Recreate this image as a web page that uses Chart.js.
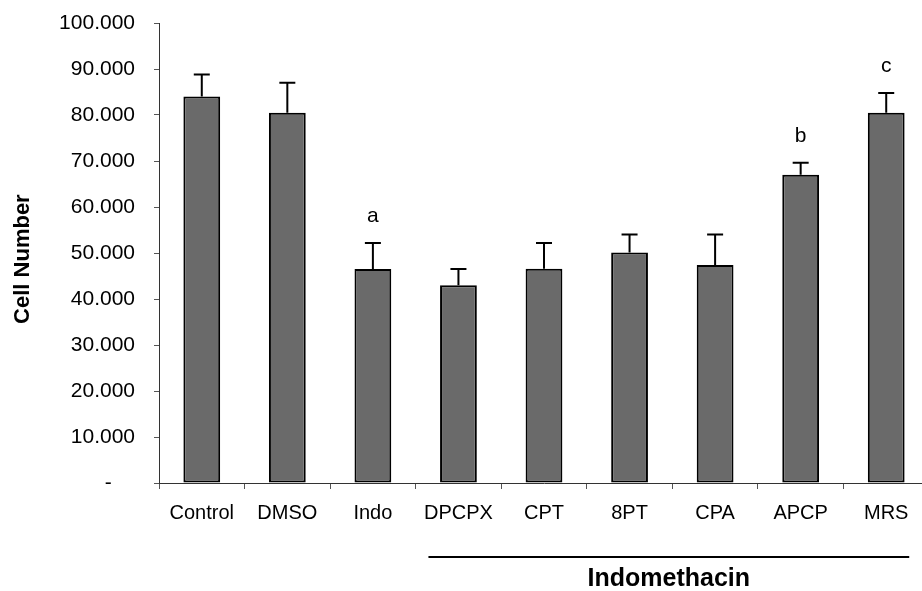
<!DOCTYPE html>
<html>
<head>
<meta charset="utf-8">
<script src="https://cdn.jsdelivr.net/npm/chart.js@4/dist/chart.umd.min.js"></script>
<style>
  html, body { margin: 0; padding: 0; background: #fff; overflow: hidden; }
  #wrap { width: 922px; height: 591px; overflow: hidden; }
</style>
</head>
<body>
<div id="wrap">
  <canvas id="cellChart" width="932" height="591"></canvas>
</div>
<script>
// ===== DATA =====
const groups = ["Control", "DMSO", "Indo", "DPCPX", "CPT", "8PT", "CPA", "APCP", "MRS"];
const cellMean = [84000, 80500, 46500, 43000, 46600, 50100, 47400, 67000, 80500];
const cellSem = [4800, 6500, 5700, 3500, 5600, 3900, 6600, 2600, 4300];
const sigLetters = ["", "", "a", "", "", "", "", "b", "c"];
const yTicks = [0, 10000, 20000, 30000, 40000, 50000, 60000, 70000, 80000, 90000, 100000];
const bracketFrom = "DPCPX";
const bracketTo = "MRS";
const bracketLabel = "Indomethacin";

const FONT = "'Liberation Sans', Arial, sans-serif";

// ===== ERROR BARS, LETTERS, INDOMETHACIN BRACKET =====
const extrasPlugin = {
    id: "extras",
    afterDatasetsDraw(chart) {
        const ctx = chart.ctx;
        const x = chart.scales.x;
        const y = chart.scales.y;
        const meta = chart.getDatasetMeta(0);

        ctx.save();
        ctx.strokeStyle = "#000";
        ctx.lineWidth = 2;
        meta.data.forEach((bar, i) => {
            const top = y.getPixelForValue(cellMean[i] + cellSem[i]);
            const base = y.getPixelForValue(cellMean[i]);
            ctx.beginPath();
            ctx.moveTo(bar.x, base);
            ctx.lineTo(bar.x, top);
            ctx.moveTo(bar.x - 8, top);
            ctx.lineTo(bar.x + 8, top);
            ctx.stroke();

            if (sigLetters[i]) {
                ctx.fillStyle = "#000";
                ctx.font = "21px " + FONT;
                ctx.textAlign = "center";
                ctx.textBaseline = "alphabetic";
                ctx.fillText(sigLetters[i], bar.x, top - 21);
            }
        });

        // bracket under the treated groups
        const x1 = x.getPixelForValue(groups.indexOf(bracketFrom)) - 30;
        const x2 = x.getPixelForValue(groups.indexOf(bracketTo)) + 23;
        ctx.beginPath();
        ctx.moveTo(x1, 557);
        ctx.lineTo(x2, 557);
        ctx.stroke();
        ctx.fillStyle = "#000";
        ctx.font = "bold 25px " + FONT;
        ctx.textAlign = "center";
        ctx.textBaseline = "alphabetic";
        ctx.fillText(bracketLabel, (x1 + x2) / 2, 586);
        ctx.restore();
    }
};

// ===== GRAFIK =====
const ctxCell = document.getElementById("cellChart");

new Chart(ctxCell, {
    type: "bar",
    data: {
        labels: groups,
        datasets: [{
            label: "Cell Number",
            data: cellMean,
            backgroundColor: "#6a6a6a",
            borderColor: "#000",
            borderWidth: 2,
            borderSkipped: false,
            categoryPercentage: 1,
            barPercentage: 0.43
        }]
    },
    options: {
        responsive: false,
        animation: false,
        layout: { padding: { top: 23, right: 3, bottom: 0, left: 0 } },
        plugins: {
            legend: { display: false },
            tooltip: { enabled: false }
        },
        scales: {
            x: {
                offset: true,
                grid: {
                    offset: true,
                    drawOnChartArea: false,
                    tickLength: 6,
                    color: "#555"
                },
                border: { color: "#333", width: 1 },
                ticks: {
                    color: "#000",
                    font: { family: FONT, size: 20 },
                    padding: 12,
                    maxRotation: 0
                },
                afterFit(scale) { scale.height = 108; }
            },
            y: {
                min: 0,
                max: 100000,
                afterBuildTicks(scale) {
                    scale.ticks = yTicks.map(v => ({ value: v }));
                },
                grid: {
                    drawOnChartArea: false,
                    tickLength: 5,
                    color: "#555"
                },
                border: { color: "#333", width: 1 },
                ticks: {
                    color: "#000",
                    font: { family: FONT, size: 21 },
                    padding: 19,
                    callback: v => v === 0 ? "-    " : (v / 1000).toFixed(3)
                },
                title: {
                    display: true,
                    text: "Cell Number  ",
                    color: "#000",
                    font: { family: FONT, size: 22, weight: "bold" },
                    padding: { top: 10, bottom: 0 }
                },
                afterFit(scale) {
                    scale.width = 159;
                    scale.paddingTop = 0;
                    scale.paddingBottom = 0;
                }
            }
        }
    },
    plugins: [extrasPlugin]
});
</script>
</body>
</html>
